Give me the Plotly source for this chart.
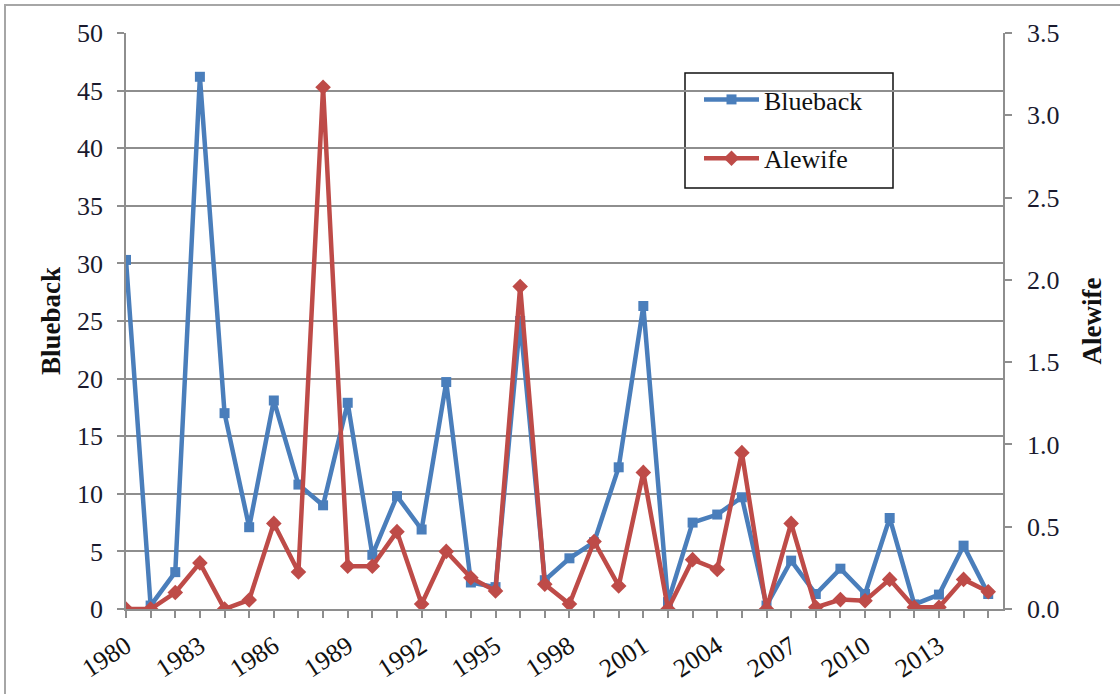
import plotly.graph_objects as go

# Annual index values
years = list(range(1980, 2016))
blueback = [30.3, 0.3, 3.2, 46.2, 17.0, 7.1, 18.1, 10.8, 9.0, 17.9, 4.7, 9.8,
            6.9, 19.7, 2.3, 1.9, 25.0, 2.5, 4.4, 5.8, 12.3, 26.3, 0.6, 7.5,
            8.2, 9.7, 0.3, 4.2, 1.3, 3.5, 1.3, 7.9, 0.4, 1.25, 5.5, 1.3]
alewife = [0.0, 0.0, 0.10, 0.28, 0.0, 0.055, 0.52, 0.225, 3.17, 0.26, 0.26, 0.47,
           0.03, 0.35, 0.19, 0.11, 1.96, 0.15, 0.03, 0.41, 0.14, 0.83, 0.0, 0.30,
           0.24, 0.95, 0.0, 0.52, 0.01, 0.057, 0.05, 0.18, 0.01, 0.01, 0.18, 0.105]

BLUE = "#4A7EBB"
RED = "#BE4B48"
GRID = "#8E8E8E"
SERIF = "Liberation Serif, Times New Roman, serif"
TXT = "#1a1a2e"

W, H = 1120, 694
L, R, T, B = 126, 117, 33, 85
PW, PH = W - L - R, H - T - B


def px(x):
    return (x - L) / PW


def py(y):
    return (H - B - y) / PH


fig = go.Figure()
fig.add_trace(go.Scatter(
    x=years, y=blueback, name="Blueback", mode="lines+markers",
    line=dict(color=BLUE, width=4.5),
    marker=dict(symbol="square", size=10, color=BLUE),
    legendgroup="b", yaxis="y"))
fig.add_trace(go.Scatter(
    x=years, y=alewife, name="Alewife", mode="lines+markers",
    line=dict(color=RED, width=4.5),
    marker=dict(symbol="diamond", size=12, color=RED),
    legendgroup="a", yaxis="y2"))

fig.update_layout(
    width=W, height=H,
    margin=dict(l=L, r=R, t=T, b=B, pad=0),
    paper_bgcolor="white", plot_bgcolor="white",
    font=dict(family=SERIF, size=26, color=TXT),
    xaxis=dict(
        range=[1980, 2015.6], tick0=1980, dtick=3, tickangle=-33,
        ticks="outside", ticklen=7, tickcolor=GRID, tickwidth=1.5,
        minor=dict(dtick=1, ticks="outside", ticklen=7, tickcolor=GRID, tickwidth=1.5),
        showline=True, linecolor=GRID, linewidth=1.5,
        showgrid=False, zeroline=False, ticklabelstandoff=3,
        tickfont=dict(family=SERIF, size=26, color="#111111")),
    yaxis=dict(
        range=[0, 50], dtick=5, ticks="outside", ticklen=7,
        tickcolor=GRID, tickwidth=1.5,
        showline=True, linecolor=GRID, linewidth=1.5,
        showgrid=True, gridcolor=GRID, gridwidth=1.5, zeroline=False,
        ticklabelstandoff=9,
        tickfont=dict(family=SERIF, size=26, color=TXT),
        title=dict(text="<b>Blueback</b>", standoff=9,
                   font=dict(family=SERIF, size=27, color="#111111"))),
    yaxis2=dict(
        range=[0, 3.5], dtick=0.5, tickformat=".1f", overlaying="y", side="right",
        ticks="outside", ticklen=7, tickcolor=GRID, tickwidth=1.5,
        showline=True, linecolor=GRID, linewidth=1.5,
        showgrid=False, zeroline=False, ticklabelstandoff=10,
        tickfont=dict(family=SERIF, size=26, color=TXT),
        title=dict(text="<b>Alewife</b>", standoff=24,
                   font=dict(family=SERIF, size=27, color="#111111"))),
    legend=dict(
        x=px(699), y=py(76), xanchor="left", yanchor="top",
        bgcolor="rgba(0,0,0,0)", borderwidth=0,
        font=dict(family=SERIF, size=26, color="#111111"),
        tracegroupgap=22, itemwidth=55),
    showlegend=True,
)

# legend frame and outer chart border
fig.add_shape(type="rect", xref="paper", yref="paper",
              x0=px(685), x1=px(893), y0=py(73), y1=py(188),
              line=dict(color="#111111", width=1.5), fillcolor="white", layer="below")
fig.add_shape(type="rect", xref="paper", yref="paper",
              x0=px(5), x1=px(1140), y0=py(5), y1=py(720),
              line=dict(color="#A6A6A6", width=2), layer="below")

fig.write_html("out.html")
